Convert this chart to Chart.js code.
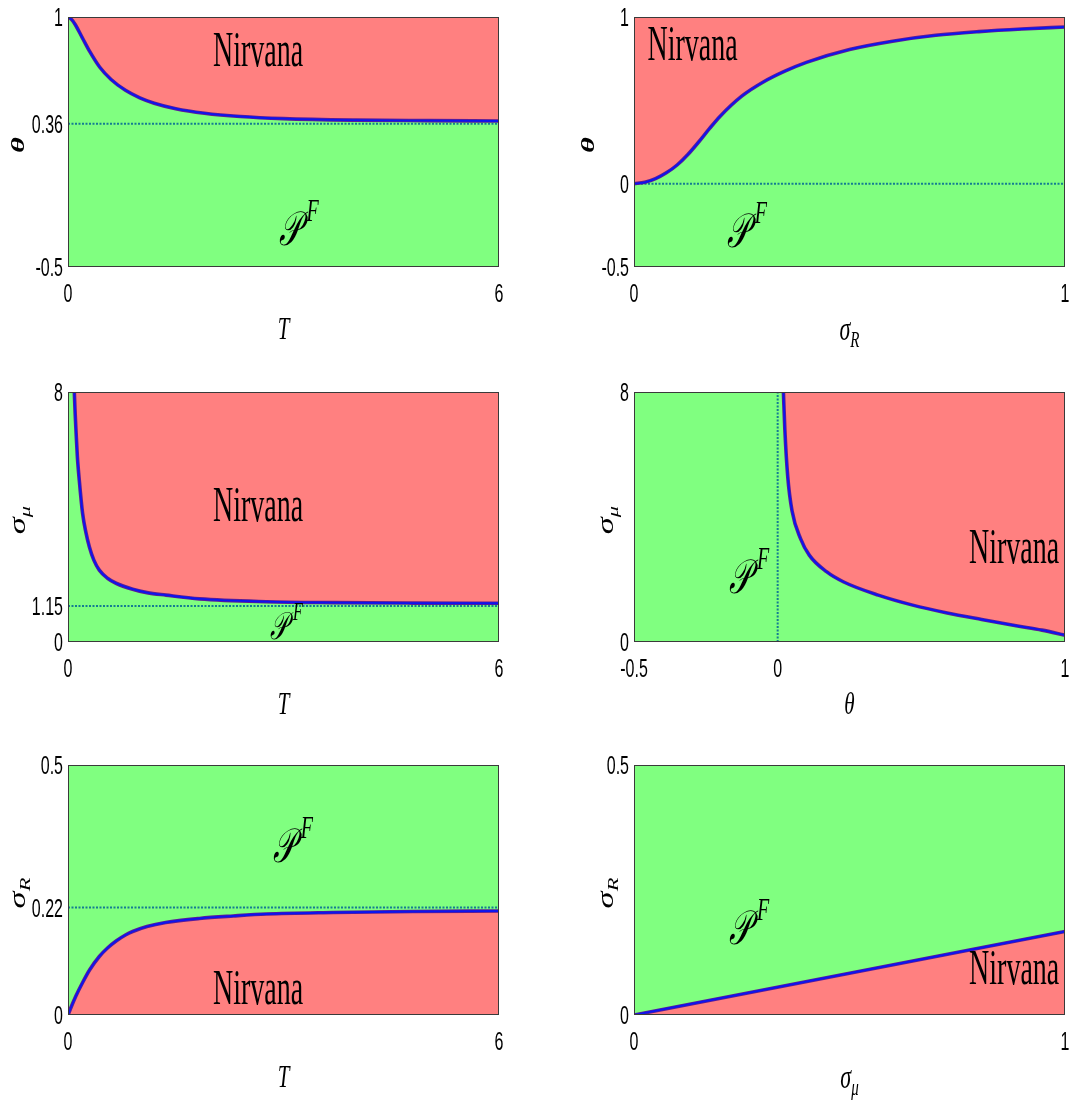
<!DOCTYPE html>
<html>
<head>
<meta charset="utf-8">
<script src="https://cdn.jsdelivr.net/npm/chart.js@4.4.1/dist/chart.umd.min.js"></script>
<style>
  body { margin: 0; background: #fff; }
  #wrap { position: relative; width: 1074px; height: 1101px; }
  canvas { position: absolute; }
</style>
</head>
<body>
<div id="wrap">
  <canvas id="p1" width="537" height="367" style="left:0;top:0"></canvas>
  <canvas id="p2" width="537" height="367" style="left:537px;top:0"></canvas>
  <canvas id="p3" width="537" height="373" style="left:0;top:367px"></canvas>
  <canvas id="p4" width="537" height="373" style="left:537px;top:367px"></canvas>
  <canvas id="p5" width="537" height="361" style="left:0;top:740px"></canvas>
  <canvas id="p6" width="537" height="361" style="left:537px;top:740px"></canvas>
</div>
<script>
// boundary curves
const p1T = [0, 0.05, 0.1, 0.2, 0.3, 0.44, 0.6, 0.8, 1.0, 1.2, 1.5, 1.9, 2.4, 3, 4, 5, 6]
const p1Theta = [1, 0.985, 0.955, 0.875, 0.795, 0.7, 0.625, 0.56, 0.515, 0.483, 0.45, 0.423, 0.403, 0.39, 0.381, 0.378, 0.376]
const p1Asym = 0.36

const p2SigmaR = [0, 0.025, 0.05, 0.075, 0.1, 0.125, 0.15, 0.175, 0.2, 0.25, 0.3, 0.35, 0.4, 0.5, 0.6, 0.7, 0.8, 0.9, 1]
const p2Theta = [0, 0.008, 0.03, 0.065, 0.112, 0.175, 0.25, 0.33, 0.405, 0.525, 0.61, 0.675, 0.728, 0.805, 0.855, 0.89, 0.912, 0.928, 0.94]
const p2Asym = 0

const p3T = [0.088, 0.1, 0.111, 0.13, 0.157, 0.203, 0.25, 0.297, 0.36, 0.436, 0.55, 0.669, 0.9, 1.1, 1.365, 1.83, 2.76, 3.68, 4.8, 6]
const p3SigmaMu = [8, 7.3, 6.78, 5.95, 5.18, 4.12, 3.5, 3.05, 2.62, 2.3, 2.04, 1.88, 1.69, 1.58, 1.5, 1.38, 1.29, 1.26, 1.245, 1.24]
const p3Asym = 1.15

const p4Theta = [0.02, 0.025, 0.035, 0.05, 0.08, 0.11, 0.17, 0.23, 0.35, 0.47, 0.59, 0.71, 0.83, 0.92, 1]
const p4SigmaMu = [8, 6.8, 5.3, 4.2, 3.3, 2.78, 2.25, 1.92, 1.5, 1.18, 0.93, 0.72, 0.52, 0.38, 0.22]
const p4Asym = 0

const p5T = [0, 0.05, 0.11, 0.2, 0.3, 0.436, 0.55, 0.67, 0.8, 0.9, 1.1, 1.36, 1.83, 2.3, 2.76, 3.69, 4.8, 6]
const p5SigmaR = [0, 0.018, 0.038, 0.064, 0.09, 0.117, 0.134, 0.148, 0.16, 0.167, 0.177, 0.185, 0.193, 0.198, 0.202, 0.205, 0.207, 0.208]
const p5Asym = 0.215

const p6SigmaMu = [0, 1]
const p6SigmaR = [0, 0.167]

// tick values and labels
const p1XTicks = [0, 6], p1XLabels = ['0', '6']
const p1YTicks = [-0.5, 0.36, 1], p1YLabels = ['-0.5', '0.36', '1']
const p2XTicks = [0, 1], p2XLabels = ['0', '1']
const p2YTicks = [-0.5, 0, 1], p2YLabels = ['-0.5', '0', '1']
const p3XTicks = [0, 6], p3XLabels = ['0', '6']
const p3YTicks = [0, 1.15, 8], p3YLabels = ['0', '1.15', '8']
const p4XTicks = [-0.5, 0, 1], p4XLabels = ['-0.5', '0', '1']
const p4YTicks = [0, 8], p4YLabels = ['0', '8']
const p5XTicks = [0, 6], p5XLabels = ['0', '6']
const p5YTicks = [0, 0.215, 0.5], p5YLabels = ['0', '0.22', '0.5']
const p6XTicks = [0, 1], p6XLabels = ['0', '1']
const p6YTicks = [0, 0.5], p6YLabels = ['0', '0.5']

const green = 'rgb(128, 255, 128)'
const red = 'rgb(255, 128, 128)'
const serif = '"Liberation Serif", "DejaVu Serif", serif'
const tickFont = '16px "Liberation Sans", Arial, sans-serif'

const xy = (xs, ys) => xs.map((x, i) => ({ x: x, y: ys[i] }))

// the original figure is squeezed sideways, so text gets stretched vertically
const drawStretched = (ctx, str, x, y, font, stretch, align) => {
  ctx.save()
  ctx.translate(x, y)
  ctx.scale(1, stretch)
  ctx.font = font
  ctx.textAlign = align
  ctx.textBaseline = 'middle'
  ctx.fillStyle = '#000'
  ctx.fillText(str, 0, 0)
  ctx.restore()
}

const drawMath = (ctx, m) => {
  ctx.save()
  ctx.translate(m.x, m.y)
  if (m.rotated) {
    ctx.rotate(-Math.PI / 2)
    ctx.scale(m.stretch, 1)
  } else {
    ctx.scale(1, m.stretch)
  }
  const mainFont = `italic ${m.bold ? 'bold ' : ''}${m.size}px ${serif}`
  const scriptFont = `italic ${Math.round(m.size * 0.66)}px ${serif}`
  ctx.font = mainFont
  const wb = ctx.measureText(m.base).width
  ctx.font = scriptFont
  const ws = m.script ? ctx.measureText(m.script).width : 0
  const left = -(wb + ws) / 2
  const baseY = m.size * 0.3
  ctx.textAlign = 'left'
  ctx.textBaseline = 'alphabetic'
  ctx.fillStyle = '#000'
  ctx.font = mainFont
  ctx.fillText(m.base, left, baseY)
  if (m.script) {
    ctx.font = scriptFont
    const dy = m.sup ? -m.size * 0.5 : m.size * 0.22
    ctx.fillText(m.script, left + wb + (m.gap || 0), baseY + dy)
  }
  ctx.restore()
}

const panelDecor = {
  id: 'panelDecor',
  beforeDatasetsDraw(chart) {
    const { ctx, chartArea: a } = chart
    ctx.save()
    ctx.fillStyle = green
    ctx.fillRect(a.left, a.top, a.width, a.height)
    ctx.restore()
  },
  afterDatasetsDraw(chart) {
    const { ctx, chartArea: a } = chart
    ctx.save()
    ctx.strokeStyle = '#3a3a3a'
    ctx.lineWidth = 1
    ctx.strokeRect(a.left + 0.5, a.top + 0.5, a.width - 1, a.height - 1)
    ctx.restore()
  },
  afterDraw(chart, args, o) {
    const { ctx, chartArea: a, scales } = chart
    o.xTicks.forEach((v, i) => {
      drawStretched(ctx, o.xLabels[i], scales.x.getPixelForValue(v), a.bottom + 28, tickFont, 1.6, 'center')
    })
    o.yTicks.forEach((v, i) => {
      drawStretched(ctx, o.yLabels[i], a.left - 5, scales.y.getPixelForValue(v) + 2, tickFont, 1.6, 'right')
    })
    drawMath(ctx, Object.assign({ x: (a.left + a.right) / 2, y: a.bottom + 63, size: 21, stretch: 1.5 }, o.xTitle))
    drawMath(ctx, Object.assign({ x: a.left - o.yTitleGap, y: (a.top + a.bottom) / 2 + 3, size: 23, stretch: 1.5, rotated: true }, o.yTitle))
    o.notes.forEach(n => {
      const px = scales.x.getPixelForValue(n.at[0])
      const py = scales.y.getPixelForValue(n.at[1])
      if (n.text === 'Nirvana') {
        drawStretched(ctx, n.text, px, py, `28px ${serif}`, 1.8, 'center')
      } else {
        drawMath(ctx, { x: px, y: py, base: '\u{1D4AB}', script: 'F', sup: true, size: n.size || 30, stretch: 1.6, gap: 6 })
      }
    })
  }
}

const boundaryDatasets = (points, fillSide) => [
  {
    data: points,
    fill: fillSide,
    backgroundColor: red,
    borderColor: 'rgb(92, 28, 150)',
    borderWidth: 3.6,
    pointRadius: 0,
    cubicInterpolationMode: 'monotone',
    order: 3
  },
  {
    data: points,
    fill: false,
    borderColor: 'rgb(12, 20, 240)',
    borderWidth: 1.8,
    pointRadius: 0,
    cubicInterpolationMode: 'monotone',
    order: 2
  }
]

const dottedDataset = points => ({
  data: points,
  fill: false,
  borderColor: 'rgb(20, 125, 145)',
  borderWidth: 2,
  borderDash: [2, 1.5],
  pointRadius: 0,
  tension: 0,
  order: 4
})

const panelFactory = p => ({
  type: 'line',
  data: { datasets: p.datasets },
  options: {
    responsive: false,
    animation: false,
    layout: { padding: p.padding },
    scales: {
      x: { type: 'linear', min: p.xRange[0], max: p.xRange[1], display: false },
      y: { type: 'linear', min: p.yRange[0], max: p.yRange[1], display: false }
    },
    plugins: {
      legend: { display: false },
      tooltip: { enabled: false },
      panelDecor: p.decor
    }
  },
  plugins: [panelDecor]
})

const leftPad = { left: 68, right: 38 }
const rightPad = { left: 97, right: 9 }

new Chart(document.getElementById('p1'), panelFactory({
  padding: Object.assign({ top: 17, bottom: 100 }, leftPad),
  xRange: [0, 6], yRange: [-0.5, 1],
  datasets: [dottedDataset([{ x: 0, y: p1Asym }, { x: 6, y: p1Asym }])].concat(boundaryDatasets(xy(p1T, p1Theta), 'end')),
  decor: {
    xTicks: p1XTicks, xLabels: p1XLabels, yTicks: p1YTicks, yLabels: p1YLabels,
    xTitle: { base: 'T' }, yTitle: { base: 'θ', bold: true, size: 19, stretch: 1.6 }, yTitleGap: 50,
    notes: [{ text: 'Nirvana', at: [2.645, 0.784] }, { text: 'PF', at: [3.17, -0.284] }]
  }
}))

new Chart(document.getElementById('p2'), panelFactory({
  padding: Object.assign({ top: 17, bottom: 100 }, rightPad),
  xRange: [0, 1], yRange: [-0.5, 1],
  datasets: [dottedDataset([{ x: 0, y: p2Asym }, { x: 1, y: p2Asym }])].concat(boundaryDatasets(xy(p2SigmaR, p2Theta), 'end')),
  decor: {
    xTicks: p2XTicks, xLabels: p2XLabels, yTicks: p2YTicks, yLabels: p2YLabels,
    xTitle: { base: 'σ', script: 'R', size: 22 }, yTitle: { base: 'θ', bold: true, size: 19, stretch: 1.6 }, yTitleGap: 46,
    notes: [{ text: 'Nirvana', at: [0.136, 0.823] }, { text: 'PF', at: [0.255, -0.296] }]
  }
}))

new Chart(document.getElementById('p3'), panelFactory({
  padding: Object.assign({ top: 25, bottom: 98 }, leftPad),
  xRange: [0, 6], yRange: [0, 8],
  datasets: [dottedDataset([{ x: 0, y: p3Asym }, { x: 6, y: p3Asym }])].concat(boundaryDatasets(xy(p3T, p3SigmaMu), 'end')),
  decor: {
    xTicks: p3XTicks, xLabels: p3XLabels, yTicks: p3YTicks, yLabels: p3YLabels,
    xTitle: { base: 'T' }, yTitle: { base: 'σ', script: 'μ' }, yTitleGap: 50,
    notes: [{ text: 'Nirvana', at: [2.645, 4.29] }, { text: 'PF', at: [3.0, 0.45], size: 24 }]
  }
}))

new Chart(document.getElementById('p4'), panelFactory({
  padding: Object.assign({ top: 25, bottom: 98 }, rightPad),
  xRange: [-0.5, 1], yRange: [0, 8],
  datasets: [dottedDataset([{ x: p4Asym, y: 0 }, { x: p4Asym, y: 8 }])].concat(boundaryDatasets(xy(p4Theta, p4SigmaMu), 'end')),
  decor: {
    xTicks: p4XTicks, xLabels: p4XLabels, yTicks: p4YTicks, yLabels: p4YLabels,
    xTitle: { base: 'θ', size: 21 }, yTitle: { base: 'σ', script: 'μ' }, yTitleGap: 28,
    notes: [{ text: 'Nirvana', at: [0.8225, 2.94] }, { text: 'PF', at: [-0.11, 2.02] }]
  }
}))

new Chart(document.getElementById('p5'), panelFactory({
  padding: Object.assign({ top: 25, bottom: 86 }, leftPad),
  xRange: [0, 6], yRange: [0, 0.5],
  datasets: [dottedDataset([{ x: 0, y: p5Asym }, { x: 6, y: p5Asym }])].concat(boundaryDatasets(xy(p5T, p5SigmaR), 'start')),
  decor: {
    xTicks: p5XTicks, xLabels: p5XLabels, yTicks: p5YTicks, yLabels: p5YLabels,
    xTitle: { base: 'T' }, yTitle: { base: 'σ', script: 'R' }, yTitleGap: 50,
    notes: [{ text: 'Nirvana', at: [2.645, 0.049] }, { text: 'PF', at: [3.09, 0.334] }]
  }
}))

new Chart(document.getElementById('p6'), panelFactory({
  padding: Object.assign({ top: 25, bottom: 86 }, rightPad),
  xRange: [0, 1], yRange: [0, 0.5],
  datasets: boundaryDatasets(xy(p6SigmaMu, p6SigmaR), 'start'),
  decor: {
    xTicks: p6XTicks, xLabels: p6XLabels, yTicks: p6YTicks, yLabels: p6YLabels,
    xTitle: { base: 'σ', script: 'μ', size: 22 }, yTitle: { base: 'σ', script: 'R' }, yTitleGap: 28,
    notes: [{ text: 'Nirvana', at: [0.882, 0.088] }, { text: 'PF', at: [0.26, 0.17] }]
  }
}))
</script>
</body>
</html>
